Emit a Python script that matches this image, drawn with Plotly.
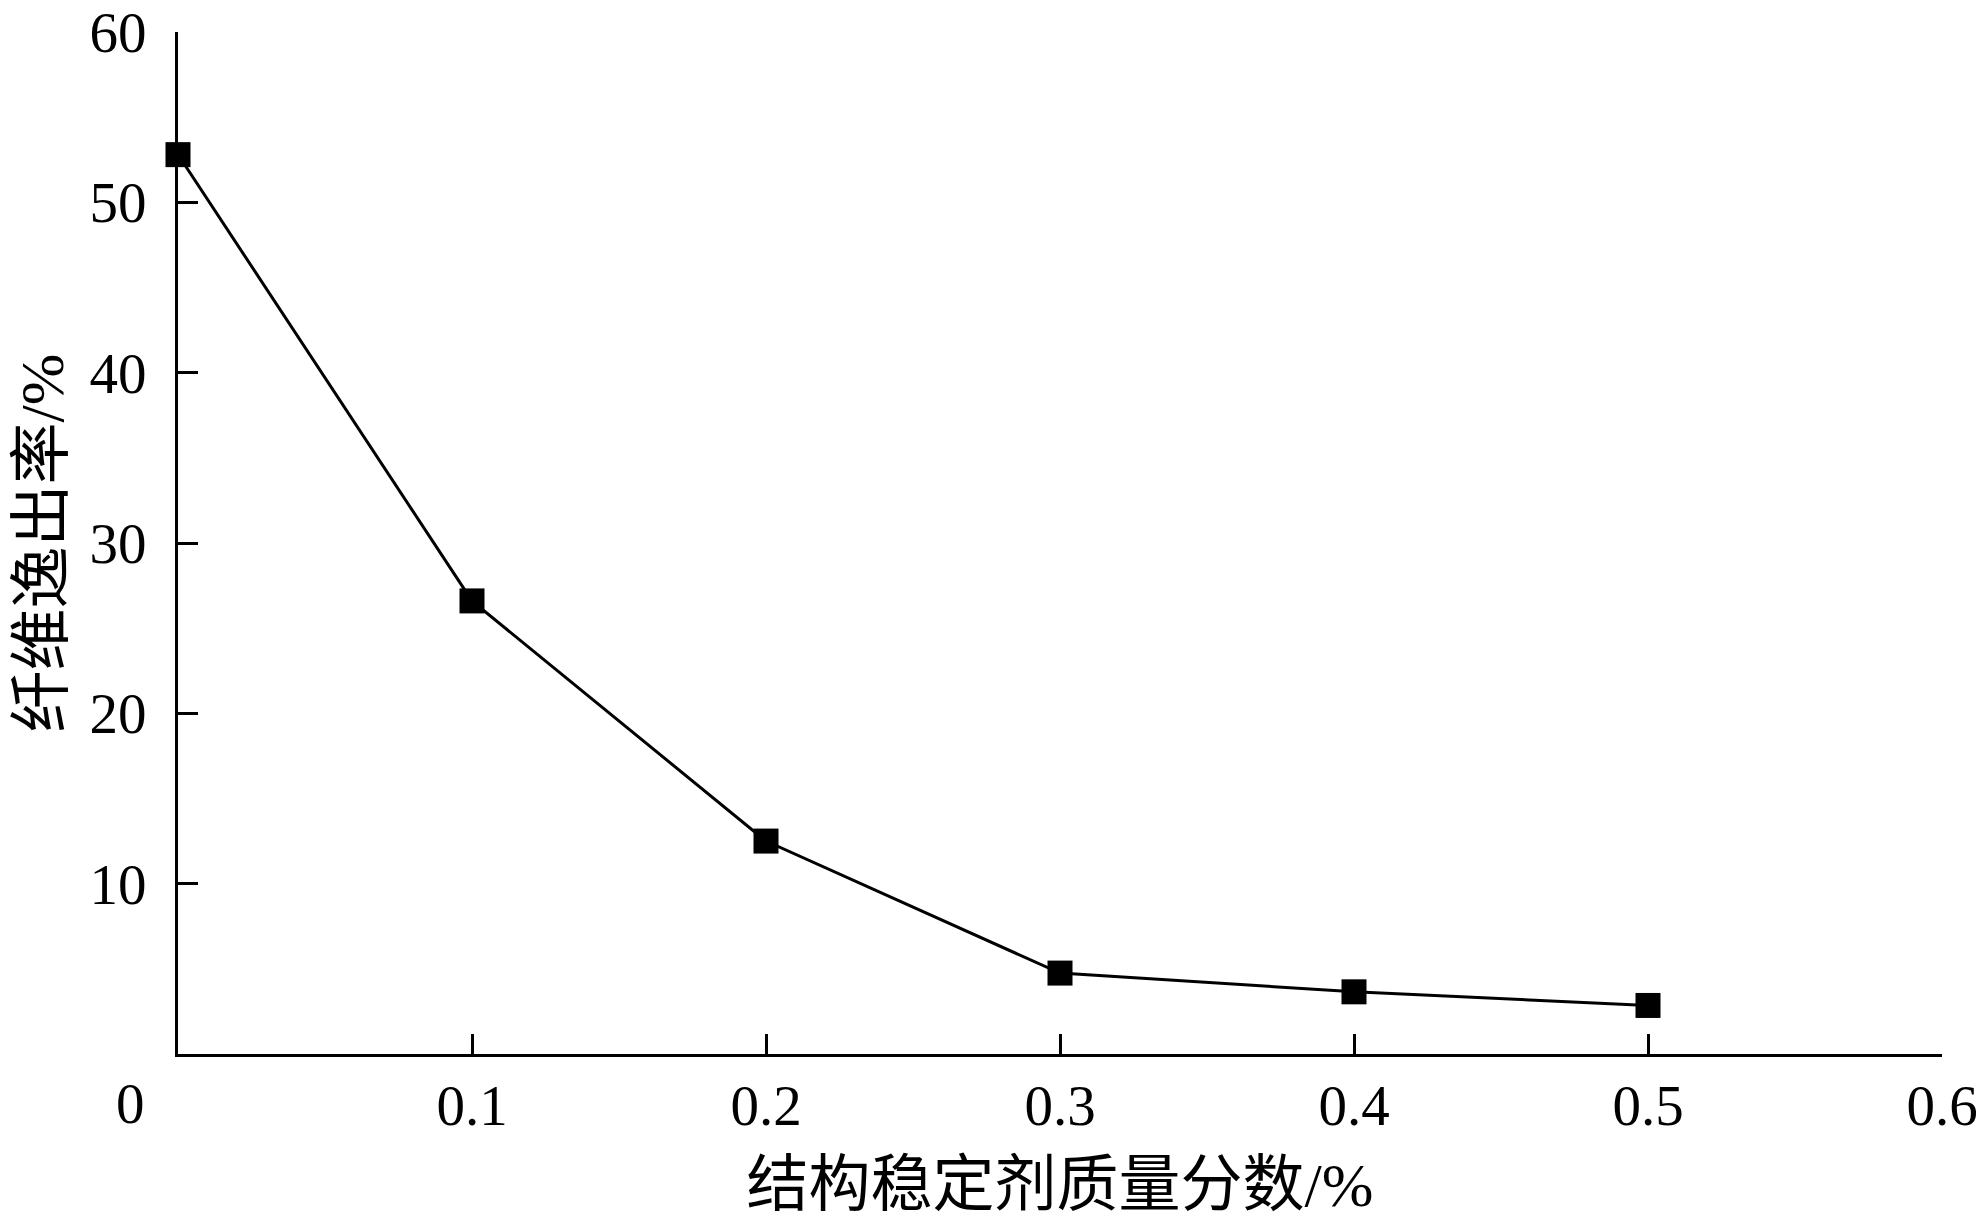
import plotly.graph_objects as go

# Data
stabilizer_pct = [0.0, 0.1, 0.2, 0.3, 0.4, 0.5]
fiber_escape_rate = [52.8, 26.6, 12.5, 4.75, 3.65, 2.85]

x_tickvals = [0.1, 0.2, 0.3, 0.4, 0.5, 0.6]
x_ticktext = ["0.1", "0.2", "0.3", "0.4", "0.5", "0.6"]
y_tickvals = [10, 20, 30, 40, 50, 60]
y_ticktext = ["10", "20", "30", "40", "50", "60"]

x_title = "结构稳定剂质量分数/%"
y_title = "纤维逸出率/%"

FONT = "Liberation Serif, Times New Roman, Noto Sans CJK SC, serif"

fig = go.Figure()
fig.add_trace(go.Scatter(
    x=stabilizer_pct, y=fiber_escape_rate,
    mode="lines+markers",
    line=dict(color="black", width=3),
    marker=dict(symbol="square", size=25, color="black"),
    cliponaxis=False,
    showlegend=False,
))

fig.update_layout(
    width=1976, height=1212,
    margin=dict(l=170, r=42, t=24, b=166),
    paper_bgcolor="white", plot_bgcolor="white",
    font=dict(family=FONT, color="black", size=57),
    xaxis=dict(
        range=[0, 0.6], showgrid=False, zeroline=False, automargin=False,
        showline=True, linecolor="black", linewidth=3,
        ticks="inside", ticklen=20, tickwidth=3, tickcolor="black",
        tickvals=x_tickvals, ticktext=x_ticktext,
        tickfont=dict(family=FONT, size=57),
        ticklabelstandoff=0, ticklabeloverflow="allow",
        title=dict(text=x_title, font=dict(family=FONT, size=62), standoff=27),
    ),
    yaxis=dict(
        range=[0, 60], showgrid=False, zeroline=False, automargin=False,
        showline=True, linecolor="black", linewidth=3,
        ticks="inside", ticklen=20, tickwidth=3, tickcolor="black",
        tickvals=y_tickvals, ticktext=y_ticktext,
        tickfont=dict(family=FONT, size=57),
        ticklabelstandoff=17, ticklabeloverflow="allow",
        title=dict(text=y_title, font=dict(family=FONT, size=62), standoff=8),
    ),
)

# Shared origin label "0" placed left of the axis corner, as in the reference
fig.add_annotation(
    x=0, y=0, xref="x", yref="paper",
    text="0", showarrow=False,
    xanchor="center", yanchor="middle",
    xshift=-48, yshift=-49,
    font=dict(family=FONT, size=57, color="black"),
)

fig.write_html("out.html")
